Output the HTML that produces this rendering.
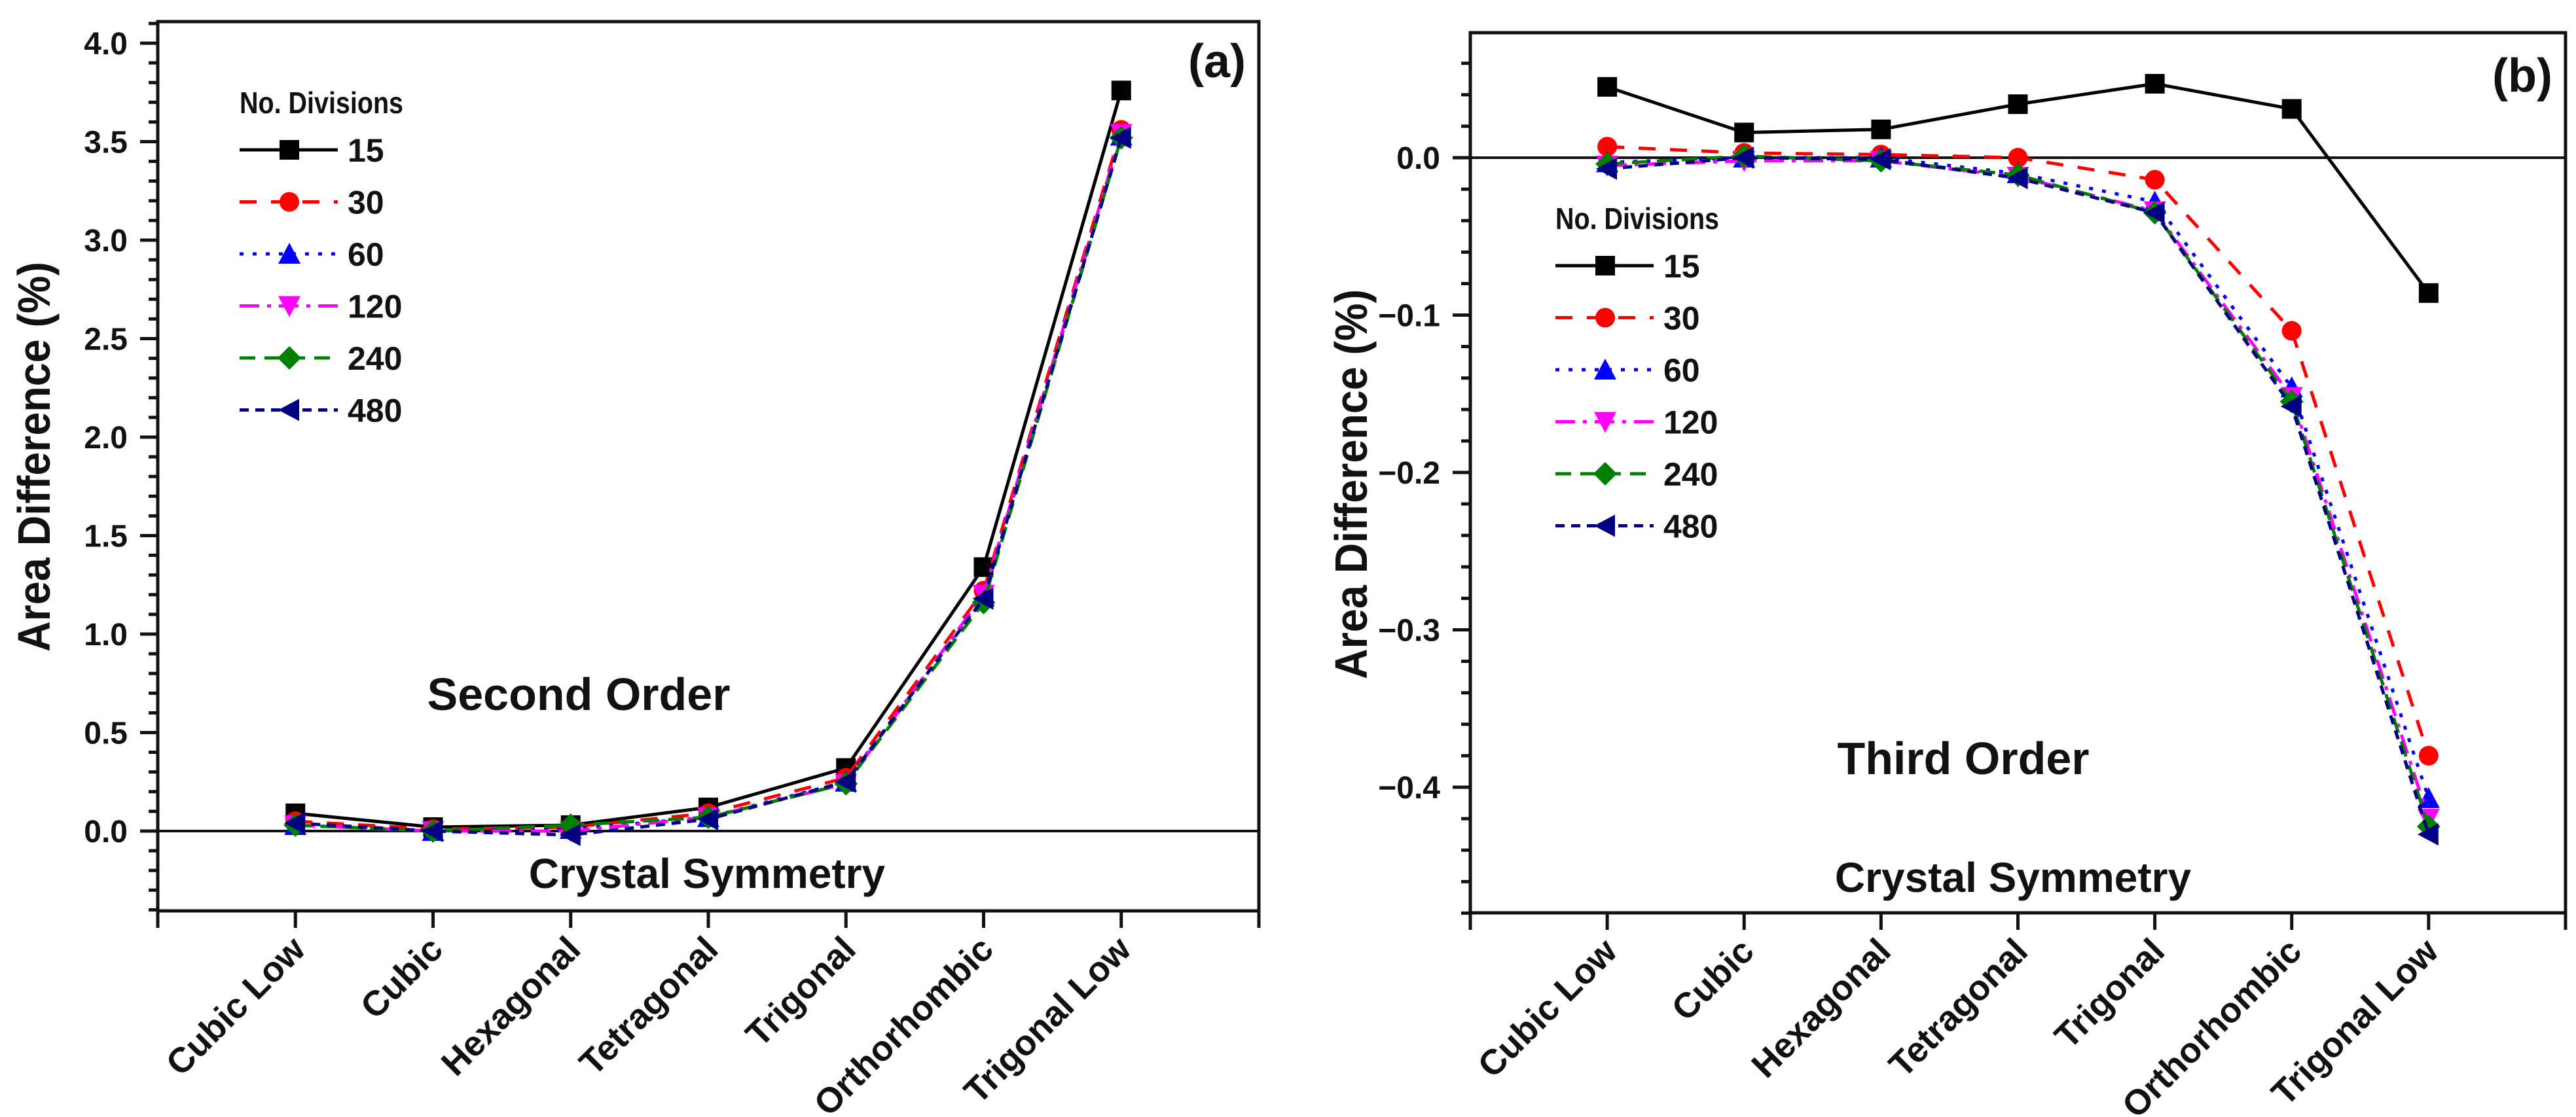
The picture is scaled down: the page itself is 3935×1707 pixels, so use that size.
<!DOCTYPE html>
<html><head><meta charset="utf-8"><style>
html,body{margin:0;padding:0;background:#fff}
svg{display:block}
text{font-family:"Liberation Sans",Arial,sans-serif;font-weight:bold;fill:#111}
</style></head><body>
<svg id="fig" width="3935" height="1707" viewBox="0 0 3935 1707" xmlns="http://www.w3.org/2000/svg"></svg>
<script>
const categories = ["Cubic Low","Cubic","Hexagonal","Tetragonal","Trigonal","Orthorhombic","Trigonal Low"];
const seriesNames = ["15","30","60","120","240","480"];
// Panel (a) second order
const a15  = [0.09,0.02,0.03,0.12,0.32,1.34,3.76];
const a30  = [0.05,0.01,0.02,0.09,0.27,1.22,3.56];
const a60  = [0.03,0.00,0.01,0.07,0.25,1.19,3.53];
const a120 = [0.03,0.00,0.00,0.07,0.24,1.20,3.54];
const a240 = [0.03,0.00,0.03,0.07,0.24,1.16,3.52];
const a480 = [0.04,0.00,-0.02,0.06,0.25,1.18,3.52];
// Panel (b) third order
const b15  = [0.045,0.016,0.018,0.034,0.047,0.031,-0.086];
const b30  = [0.007,0.003,0.002,0.000,-0.014,-0.110,-0.380];
const b60  = [-0.003,0.000,0.000,-0.010,-0.028,-0.146,-0.407];
const b120 = [-0.005,-0.002,-0.002,-0.012,-0.034,-0.152,-0.420];
const b240 = [-0.004,0.001,-0.002,-0.011,-0.035,-0.155,-0.425];
const b480 = [-0.007,0.000,-0.001,-0.013,-0.035,-0.158,-0.430];
const aTickLabels = ["0.0","0.5","1.0","1.5","2.0","2.5","3.0","3.5","4.0"];
const aTickValues = [0,0.5,1,1.5,2,2.5,3,3.5,4];
const bTickLabels = ["0.0","-0.1","-0.2","-0.3","-0.4"];
const bTickValues = [0,-0.1,-0.2,-0.3,-0.4];

const NS="http://www.w3.org/2000/svg";
const svg=document.getElementById('fig');
function mk(tag,attrs,parent){const e=document.createElementNS(NS,tag);for(const k in attrs)e.setAttribute(k,attrs[k]);(parent||svg).appendChild(e);return e;}

const styles=[
 {c:"#000000",d:"",m:"square"},
 {c:"#ff0000",d:"26,22",m:"circle"},
 {c:"#0000ff",d:"6,14",m:"up"},
 {c:"#ff00ff",d:"30,12,6,12",m:"down"},
 {c:"#008000",d:"24,14",m:"diamond"},
 {c:"#000080",d:"14,10",m:"left"}
];
function marker(g,type,x,y,c){
  const s=15;let e;
  if(type==="square") e=mk('rect',{x:x-s,y:y-s,width:2*s,height:2*s,fill:c},g);
  else if(type==="circle") e=mk('circle',{cx:x,cy:y,r:s,fill:c},g);
  else {
    let p;
    if(type==="up") p=[[x,y-s-2],[x+s+2,y+s],[x-s-2,y+s]];
    if(type==="down") p=[[x,y+s+2],[x+s+2,y-s],[x-s-2,y-s]];
    if(type==="diamond") p=[[x,y-s-3],[x+s+3,y],[x,y+s+3],[x-s-3,y]];
    if(type==="left") p=[[x-s-2,y],[x+s,y-s-2],[x+s,y+s+2]];
    e=mk('polygon',{points:p.map(q=>q.join(',')).join(' '),fill:c},g);
  }
  return e;
}

function panel(cfg){
  const g=mk('g',{});
  
  
  const X=i=>cfg.x0+(i+1)*(cfg.x1-cfg.x0)/8;
  const Y=v=>cfg.yZero-v*cfg.yUnit;
  const fr=mk('rect',{x:cfg.x0,y:cfg.yTop,width:cfg.x1-cfg.x0,height:cfg.yBot-cfg.yTop,fill:"none",stroke:"#111","stroke-width":5},g);
  
  
  const zl=mk('line',{x1:cfg.x0,x2:cfg.x1,y1:Y(0),y2:Y(0),stroke:"#111","stroke-width":4},g);
  
  
  for(let v=cfg.minStart; v<=cfg.minEnd+1e-9; v+=cfg.minStep){
    const y=Y(v); if(y<cfg.yTop-1||y>cfg.yBot+1) continue;
    mk('line',{x1:cfg.x0-14,x2:cfg.x0,y1:y,y2:y,stroke:"#111","stroke-width":5},g);
  }
  cfg.tickValues.forEach((v,k)=>{
    const y=Y(v);
    mk('line',{x1:cfg.x0-27,x2:cfg.x0,y1:y,y2:y,stroke:"#111","stroke-width":5},g);
    const lbl=cfg.tickLabels[k].replace('-','\u2212');
    const t=mk('text',{x:cfg.x0-46,y:y+17,"text-anchor":"end","font-size":48},g);
    t.textContent=lbl;
    
    
  });
  for(let i=-1;i<=7;i++){
    mk('line',{x1:X(i),x2:X(i),y1:cfg.yBot,y2:cfg.yBot+26,stroke:"#111","stroke-width":5},g);
  }
  categories.forEach((c,i)=>{
    const t=mk('text',{x:0,y:0,"text-anchor":"end","font-size":54,transform:`translate(${X(i)+18},${cfg.yBot+62}) rotate(-45)`},g);
    t.textContent=c;
    
    
  });
  cfg.series.forEach((arr,s)=>{
    const st=styles[s];
    const sg=mk('g',{},g);
    
    
    const pts=arr.map((v,i)=>X(i)+','+Y(v)).join(' ');
    const pl=mk('polyline',{points:pts,fill:"none",stroke:st.c,"stroke-width":5,"stroke-dasharray":st.d},sg);
    
    
    arr.forEach((v,i)=>{
      const m=marker(sg,st.m,X(i),Y(v),st.c);
      
      
    });
  });
  const lg=mk('g',{},g);
  
  
  const lt=mk('text',{x:cfg.lx,y:cfg.ly,"font-size":46,textLength:250,lengthAdjust:"spacingAndGlyphs"},lg);
  lt.textContent="No. Divisions";
  
  
  seriesNames.forEach((n,s)=>{
    const st=styles[s];const y=cfg.ly+56+s*79.5;
    const eg=mk('g',{},lg);
    
    
    mk('line',{x1:cfg.lx,x2:cfg.lx+150,y1:y,y2:y,stroke:st.c,"stroke-width":5,"stroke-dasharray":st.d},eg);
    marker(eg,st.m,cfg.lx+76,y,st.c);
    const tx=mk('text',{x:cfg.lx+165,y:y+18,"font-size":50},eg);
    tx.textContent=n;
  });
  const o=mk('text',{x:cfg.ox,y:cfg.oy,"text-anchor":"middle","font-size":70},g);
  o.textContent=cfg.order;
  
  
  const cs=mk('text',{x:cfg.cx,y:cfg.cy,"text-anchor":"middle","font-size":64},g);
  cs.textContent="Crystal Symmetry";
  
  
  const yt=mk('text',{x:0,y:0,"text-anchor":"middle","font-size":70,textLength:cfg.ylen,lengthAdjust:"spacingAndGlyphs",transform:`translate(${cfg.ytx},${cfg.yty}) rotate(-90)`},g);
  yt.textContent="Area Difference (%)";
  
  
  const pl=mk('text',{x:cfg.x1-20,y:cfg.ply,"text-anchor":"end","font-size":72},g);
  pl.textContent=cfg.panelLabel;
  
  
}

panel({name:"panel-a-second-order",x0:241,x1:1923,yTop:33,yBot:1392,yZero:1270,yUnit:301,
  minStart:-0.4,minEnd:4.1,minStep:0.1,tickValues:aTickValues,tickLabels:aTickLabels,
  series:[a15,a30,a60,a120,a240,a480],lx:366,ly:173,
  order:"Second Order",ox:884,oy:1085,cx:1080,cy:1357,ytx:76,yty:698,ylen:596,panelLabel:"(a)",ply:118});
panel({name:"panel-b-third-order",x0:2246,x1:3919,yTop:50,yBot:1395,yZero:241,yUnit:2405,
  minStart:-0.48,minEnd:0.08,minStep:0.02,tickValues:bTickValues,tickLabels:bTickLabels,
  series:[b15,b30,b60,b120,b240,b480],lx:2376,ly:350,
  order:"Third Order",ox:2999,oy:1183,cx:3075,cy:1363,ytx:2088,yty:740,ylen:596,panelLabel:"(b)",ply:140});
</script>
</body></html>
